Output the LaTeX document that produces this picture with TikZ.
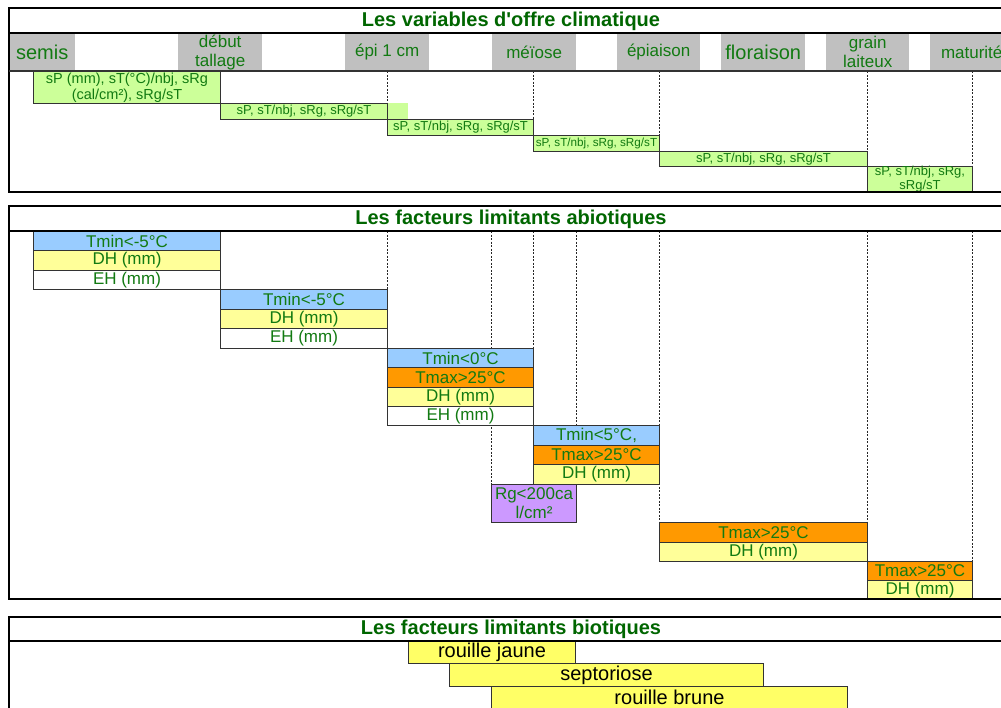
\documentclass[tikz,border=0pt]{standalone}
\usepackage{fontspec}
\setmainfont{Liberation Sans}[Ligatures=TeXOff]
\definecolor{txtgreen}{HTML}{127A12}
\definecolor{ttlgreen}{HTML}{006600}
\definecolor{stagegray}{HTML}{C0C0C0}
\definecolor{lgreen}{HTML}{CCFF99}
\definecolor{lblue}{HTML}{99CCFF}
\definecolor{lyellow}{HTML}{FFFF99}
\definecolor{orng}{HTML}{FF9900}
\definecolor{lpurple}{HTML}{CC99FF}
\definecolor{byellow}{HTML}{FFFF66}
\definecolor{edge}{HTML}{333333}
\newcommand{\cellnode}[7]{%
  \pgfmathsetmacro\cw{#4-#2}\pgfmathsetmacro\ch{#5-#3}%
  \node[#6, anchor=north west, minimum width=\cw pt, minimum height=\ch pt] (#1) at (#2,#3) {#7};}
\tikzset{
  frameline/.style={draw=black, line width=2pt},
  rowline/.style={draw=edge, line width=1.3pt},
  cell/.style={draw=edge, line width=1pt, inner sep=0pt, text=txtgreen, align=center},
  stagecell/.style={fill=stagegray, inner sep=0pt, text=txtgreen, align=center, font=\fontsize{17}{19}\selectfont},
  guide/.style={draw=black!85, line width=1pt, dash pattern=on 2pt off 1.5pt},
  title/.style={text=ttlgreen, font=\bfseries\fontsize{20}{22}\selectfont},
  f14/.style={font=\fontsize{14.5}{15.5}\selectfont},
  f13/.style={font=\fontsize{13}{14}\selectfont},
  f12/.style={font=\fontsize{11.7}{13}\selectfont},
  f17/.style={font=\fontsize{17}{19}\selectfont},
  f20/.style={font=\fontsize{20}{22}\selectfont},
  bio/.style={cell, fill=byellow, text=black, f20},
}
\begin{document}
\begin{tikzpicture}[x=1pt,y=-1pt]
\useasboundingbox (0,0) rectangle (1001,707);
\clip (0,0) rectangle (1001,707);
\fill[white] (0,0) rectangle (1001,707);

% ---------- Panel 1 ----------
\node[title] (t1) at (511,21) {Les variables d'offre climatique};
\cellnode{s1}{9}{34}{75}{70}{stagecell, f20}{semis}
\cellnode{s2}{178}{34}{262}{70}{stagecell}{début\\tallage}
\cellnode{s3}{345}{34}{429}{70}{stagecell}{épi 1 cm}
\cellnode{s4}{492}{34}{576}{70}{stagecell}{méïose}
\cellnode{s5}{617}{34}{700}{70}{stagecell}{épiaison}
\cellnode{s6}{721}{34}{805}{70}{stagecell, f20}{floraison}
\cellnode{s7}{826}{34}{909}{70}{stagecell}{grain\\laiteux}
\cellnode{s8}{930}{34}{1013}{70}{stagecell}{maturité}

\draw[guide] (387,71) -- (387,103);
\draw[guide] (533,71) -- (533,119);
\draw[guide] (659,71) -- (659,135);
\draw[guide] (867,71) -- (867,151);
\draw[guide] (972,71) -- (972,166);
\fill[lgreen] (387,103) rectangle (408,119);

\cellnode{v1}{33}{71}{220}{103}{cell, fill=lgreen, f14}{sP (mm), sT(°C)/nbj, sRg\\(cal/cm²), sRg/sT}
\cellnode{v2}{220}{103}{387}{119}{cell, fill=lgreen, f13}{sP, sT/nbj, sRg, sRg/sT}
\cellnode{v3}{387}{119}{533}{135}{cell, fill=lgreen, f13}{sP, sT/nbj, sRg, sRg/sT}
\cellnode{v4}{533}{135}{659}{151}{cell, fill=lgreen, f12}{sP, sT/nbj, sRg, sRg/sT}
\cellnode{v5}{659}{151}{867}{166}{cell, fill=lgreen, f13}{sP, sT/nbj, sRg, sRg/sT}
\cellnode{v6}{867}{166}{972}{192}{cell, fill=lgreen, f13}{sP, sT/nbj, sRg,\\sRg/sT}

\draw[frameline] (9,8) rectangle (1030,192);
\draw[frameline] (9,33) -- (1030,33);
\draw[rowline] (9,71) -- (1030,71);

% ---------- Panel 2 ----------
\node[title] (t2) at (511,219) {Les facteurs limitants abiotiques};
\draw[guide] (387,231) -- (387,348);
\draw[guide] (491,231) -- (491,484);
\draw[guide] (533,231) -- (533,425);
\draw[guide] (576,231) -- (576,484);
\draw[guide] (659,231) -- (659,522);
\draw[guide] (867,231) -- (867,561);
\draw[guide] (972,231) -- (972,561);

\cellnode{a1}{33}{231}{220}{250}{cell, fill=lblue, f17}{Tmin<-5°C}
\cellnode{a2}{33}{250}{220}{270}{cell, fill=lyellow, f17}{DH (mm)}
\cellnode{a3}{33}{270}{220}{289}{cell, fill=white, f17}{EH (mm)}
\cellnode{b1}{220}{289}{387}{309}{cell, fill=lblue, f17}{Tmin<-5°C}
\cellnode{b2}{220}{309}{387}{328}{cell, fill=lyellow, f17}{DH (mm)}
\cellnode{b3}{220}{328}{387}{348}{cell, fill=white, f17}{EH (mm)}
\cellnode{c1}{387}{348}{533}{367}{cell, fill=lblue, f17}{Tmin<0°C}
\cellnode{c2}{387}{367}{533}{387}{cell, fill=orng, f17}{Tmax>25°C}
\cellnode{c3}{387}{387}{533}{406}{cell, fill=lyellow, f17}{DH (mm)}
\cellnode{c4}{387}{406}{533}{425}{cell, fill=white, f17}{EH (mm)}
\cellnode{d1}{533}{425}{659}{445}{cell, fill=lblue, f17}{Tmin<5°C,}
\cellnode{d2}{533}{445}{659}{464}{cell, fill=orng, f17}{Tmax>25°C}
\cellnode{d3}{533}{464}{659}{484}{cell, fill=lyellow, f17}{DH (mm)}
\cellnode{p1}{491}{484}{576}{522}{cell, fill=lpurple, f17}{Rg<200ca\\l/cm²}
\cellnode{e1}{659}{522}{867}{542}{cell, fill=orng, f17}{Tmax>25°C}
\cellnode{e2}{659}{542}{867}{561}{cell, fill=lyellow, f17}{DH (mm)}
\cellnode{g1}{867}{561}{972}{580}{cell, fill=orng, f17}{Tmax>25°C}
\cellnode{g2}{867}{580}{972}{599}{cell, fill=lyellow, f17}{DH (mm)}

\draw[frameline] (9,206) rectangle (1030,599);
\draw[frameline] (9,231) -- (1030,231);

% ---------- Panel 3 ----------
\node[title] (t3) at (511,629.5) {Les facteurs limitants biotiques};
\cellnode{r1}{408}{641}{575}{663}{bio}{rouille jaune}
\cellnode{r2}{449}{663}{763}{686}{bio}{septoriose}
\cellnode{r3}{491}{686}{847}{708}{bio}{rouille brune}
\draw[frameline] (9,617) rectangle (1030,730);
\draw[frameline] (9,641) -- (1030,641);
\end{tikzpicture}
\end{document}
